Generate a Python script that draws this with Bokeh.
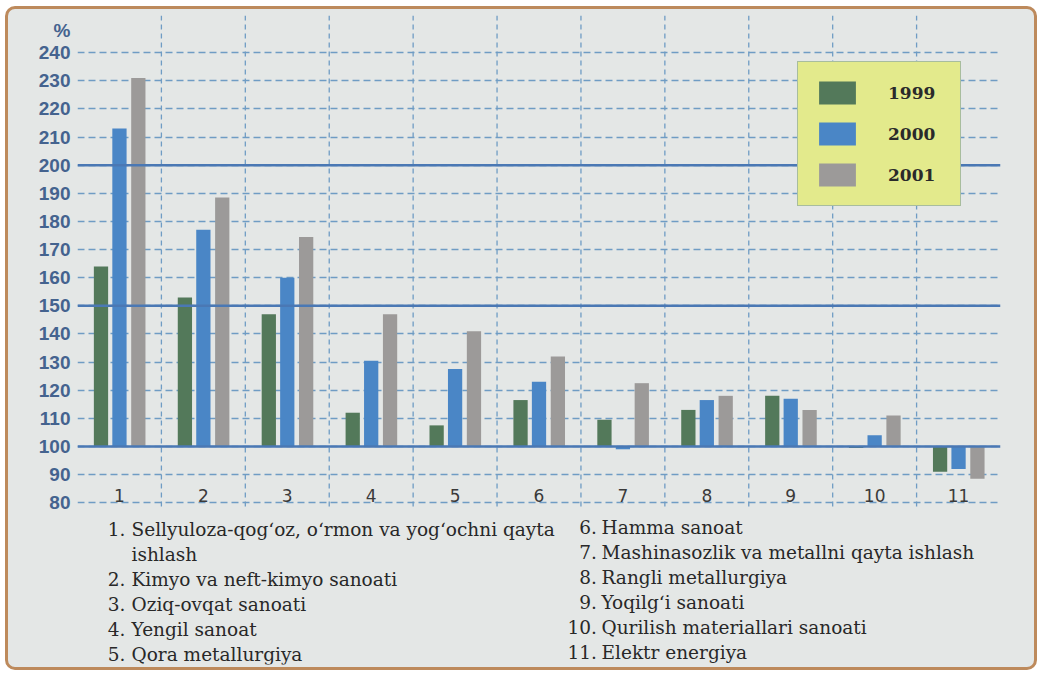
from bokeh.plotting import figure
from bokeh.models import Range1d, FixedTicker, Span, Legend, LegendItem, ColumnDataSource
from bokeh.transform import dodge
from bokeh.core.properties import value
from bokeh.embed import file_html
from bokeh.resources import INLINE

# ---------------- data ----------------
categories = [1, 2, 3, 4, 5, 6, 7, 8, 9, 10, 11]
cat_labels = ["1", "2", "3", "4", "5", "6", "7", "8", "9", "10", "11"]
years = ["1999", "2000", "2001"]
v1999 = [164, 153, 147, 112, 107.5, 116.5, 109.5, 113, 118, 99.5, 91]
v2000 = [213, 177, 160, 130.5, 127.5, 123, 99, 116.5, 117, 104, 92]
v2001 = [231, 188.5, 174.5, 147, 141, 132, 122.5, 118, 113, 111, 88.5]
y_ticks = [80, 90, 100, 110, 120, 130, 140, 150, 160, 170, 180, 190, 200, 210, 220, 230, 240]
ref_lines = [100, 150, 200]
base_value = 100
group_bounds = [1.5, 2.5, 3.5, 4.5, 5.5, 6.5, 7.5, 8.5, 9.5, 10.5]
unit_label = "%"

notes_left_num = ["1.", "", "2.", "3.", "4.", "5."]
notes_left_text = [
    "Sellyuloza-qogʻoz, oʻrmon va yogʻochni qayta",
    "ishlash",
    "Kimyo va neft-kimyo sanoati",
    "Oziq-ovqat sanoati",
    "Yengil sanoat",
    "Qora metallurgiya",
]
notes_right_num = ["6.", "7.", "8.", "9.", "10.", "11."]
notes_right_text = [
    "Hamma sanoat",
    "Mashinasozlik va metallni qayta ishlash",
    "Rangli metallurgiya",
    "Yoqilgʻi sanoati",
    "Qurilish materiallari sanoati",
    "Elektr energiya",
]

# ---------------- styles ----------------
BG = "#e4e7e6"
C1999 = "#53795a"
C2000 = "#4a86c6"
C2001 = "#9c9a99"
GRID = "#6f9cc4"
SOLID = "#4a78b4"
TICK = "#44638f"
SERIF = "DejaVu Serif"
NOTE_COLOR = "#282828"

Y_TOP = 253.2
Y_BOTTOM = 22.5
GRID_BOTTOM = 78.7
PCT_TICK = 248

p = figure(width=1032, height=664,
           x_range=Range1d(0.5, 11.5), y_range=Range1d(Y_BOTTOM, Y_TOP),
           output_backend="svg", toolbar_location=None,
           min_border_left=69, min_border_right=40, min_border_top=6, min_border_bottom=9,
           background_fill_color=None, border_fill_color=None, outline_line_color=None)
p.styles = {"border": "3px solid #bd8a5c", "border-radius": "10px", "overflow": "hidden",
            "margin": "6px 0 0 5px", "background-color": BG}

p.xaxis.visible = False
yax = p.yaxis[0]
yax.ticker = FixedTicker(ticks=y_ticks + [PCT_TICK])
yax.major_label_overrides = {PCT_TICK: unit_label}
yax.axis_line_color = None
yax.major_tick_line_color = None
yax.minor_tick_line_color = None
yax.major_tick_in = 0
yax.major_tick_out = 0
yax.minor_tick_in = 0
yax.minor_tick_out = 0
yax.major_label_standoff = 7
yax.major_label_text_font = "Liberation Sans"
yax.major_label_text_font_style = "bold"
yax.major_label_text_font_size = "19px"
yax.major_label_text_color = TICK

p.ygrid.ticker = FixedTicker(ticks=y_ticks)
p.ygrid.grid_line_color = GRID
p.ygrid.grid_line_dash = "7 4"
p.ygrid.grid_line_width = 1.3
p.xgrid.visible = False

# vertical dashed separators between the groups
p.segment(x0=group_bounds, x1=group_bounds, y0=[GRID_BOTTOM] * len(group_bounds),
          y1=[Y_TOP] * len(group_bounds), line_color=GRID, line_dash="5 4", line_width=1.3)

for v in ref_lines:
    p.add_layout(Span(location=v, dimension="width", line_color=SOLID, line_width=2.5))

src = ColumnDataSource(dict(x=categories, lab=cat_labels, y1999=v1999, y2000=v2000, y2001=v2001))
r1 = p.vbar(x=dodge("x", -0.22, range=p.x_range), top="y1999", bottom=base_value, width=0.17,
            source=src, fill_color=C1999, line_color=None)
r2 = p.vbar(x=dodge("x", 0.0, range=p.x_range), top="y2000", bottom=base_value, width=0.17,
            source=src, fill_color=C2000, line_color=None)
r3 = p.vbar(x=dodge("x", 0.225, range=p.x_range), top="y2001", bottom=base_value, width=0.17,
            source=src, fill_color=C2001, line_color=None)

p.text(x="x", y=82.6, text="lab", source=src, text_align="center", text_baseline="middle",
       text_font=value("DejaVu Sans"), text_font_size="17px", text_color="#3a3a3a")

legend = Legend(items=[LegendItem(label=years[0], renderers=[r1]),
                       LegendItem(label=years[1], renderers=[r2]),
                       LegendItem(label=years[2], renderers=[r3])],
                location=(720, 458), orientation="vertical",
                background_fill_color="#e3ea8c", background_fill_alpha=1.0,
                border_line_color="#6d8fb0", border_line_width=1.5,
                padding=16, spacing=12, margin=0,
                glyph_width=46, glyph_height=29, label_standoff=28, label_width=56,
                label_text_font=SERIF, label_text_font_size="17px", label_text_font_style="bold",
                label_text_color="#2a2a2a")
p.add_layout(legend)

# notes below the chart (data-space text, two columns)
row_step = 8.88
left_num_x, left_text_x, left_y0 = 1.07, 1.144, 70.5
right_num_x, right_text_x, right_y0 = 6.69, 6.745, 71.2
left_y = [left_y0 - i * row_step for i in range(len(notes_left_text))]
right_y = [right_y0 - i * row_step for i in range(len(notes_right_text))]

note_style = dict(text_baseline="middle", text_font=value(SERIF), text_font_size="18.5px",
                  text_color=NOTE_COLOR)
p.text(x=[left_num_x] * len(left_y), y=left_y, text=notes_left_num, text_align="right", **note_style)
p.text(x=[left_text_x] * len(left_y), y=left_y, text=notes_left_text, text_align="left", **note_style)
p.text(x=[right_num_x] * len(right_y), y=right_y, text=notes_right_num, text_align="right", **note_style)
p.text(x=[right_text_x] * len(right_y), y=right_y, text=notes_right_text, text_align="left", **note_style)

open("out.html", "w").write(file_html(p, INLINE))
